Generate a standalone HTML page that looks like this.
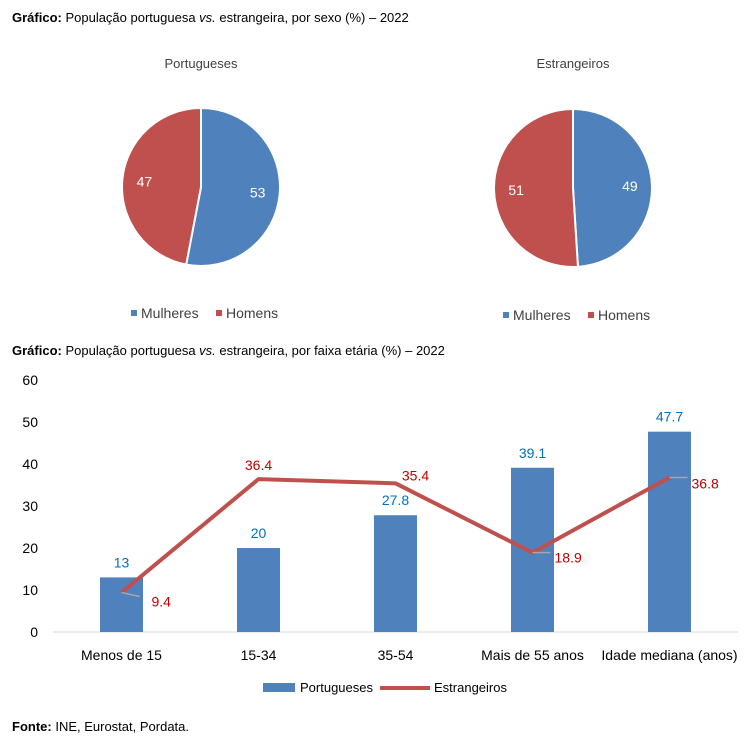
<!DOCTYPE html>
<html><head><meta charset="utf-8"><style>
body{margin:0;background:#fff;font-family:"Liberation Sans",sans-serif;}
svg text{font-family:"Liberation Sans",sans-serif;}
</style></head><body>
<svg id="c" width="748" height="744" xmlns="http://www.w3.org/2000/svg">
<text x="12" y="22" font-size="13" fill="#000"><tspan font-weight="bold">Gráfico:</tspan> População portuguesa <tspan font-style="italic">vs.</tspan> estrangeira, por sexo (%) – 2022</text>
<text x="12" y="355" font-size="13" fill="#000"><tspan font-weight="bold">Gráfico:</tspan> População portuguesa <tspan font-style="italic">vs.</tspan> estrangeira, por faixa etária (%) – 2022</text>
<text x="12" y="731" font-size="13" fill="#000"><tspan font-weight="bold">Fonte:</tspan> INE, Eurostat, Pordata.</text>
<g id="pies"></g>
<g id="bars"></g>
</svg>
<script>
const pieTitles=["Portugueses","Estrangeiros"];
const pieMulheres=[53,49];
const pieHomens=[47,51];
const barCats=["Menos de 15","15-34","35-54","Mais de 55 anos","Idade mediana (anos)"];
const portugueses=[13,20,27.8,39.1,47.7];
const estrangeiros=[9.4,36.4,35.4,18.9,36.8];
const yTicks=[0,10,20,30,40,50,60];

const NS="http://www.w3.org/2000/svg";
function mk(tag,attrs,parent){const e=document.createElementNS(NS,tag);for(const k in attrs)e.setAttribute(k,attrs[k]);parent.appendChild(e);return e;}
const BLUE="#4f81bd",RED="#c0504d";
const pies=document.getElementById('pies');
const pcx=[201,573],pcy=[187,188],R=79;
pieTitles.forEach((t,i)=>{
  const g=mk('g',{},pies);
  
  
  const tt=mk('text',{x:pcx[i],y:68,'font-size':13,'text-anchor':'middle',fill:'#404040'},g);tt.textContent=t;
  
  
  const cx=pcx[i],cy=pcy[i];
  const vals=[pieMulheres[i],pieHomens[i]],cols=[BLUE,RED],names=['mulheres','homens'];
  const tot=vals[0]+vals[1];let a0=0;
  vals.forEach((v,j)=>{
    const a1=a0+v/tot*2*Math.PI;
    const x0=cx+R*Math.sin(a0),y0=cy-R*Math.cos(a0),x1=cx+R*Math.sin(a1),y1=cy-R*Math.cos(a1);
    const p=mk('path',{d:`M${cx},${cy}L${x0},${y0}A${R},${R} 0 ${a1-a0>Math.PI?1:0} 1 ${x1},${y1}Z`,fill:cols[j],stroke:'#fff','stroke-width':2},g);
    
    
    const am=(a0+a1)/2,lr=R*0.72;
    const l=mk('text',{x:cx+lr*Math.sin(am),y:cy-lr*Math.cos(am)+5,'font-size':14,'text-anchor':'middle',fill:'#fff'},g);l.textContent=v;
    
    
    a0=a1;
  });
  const ly=i==0?319:321,lx=cx-70;
  const lg=mk('g',{},g);
  
  
  mk('rect',{x:lx,y:ly-9,width:6,height:6,fill:BLUE},lg);
  mk('text',{x:lx+10,y:ly-1,'font-size':14,fill:'#404040'},lg).textContent='Mulheres';
  mk('rect',{x:lx+85,y:ly-9,width:6,height:6,fill:RED},lg);
  mk('text',{x:lx+95,y:ly-1,'font-size':14,fill:'#404040'},lg).textContent='Homens';
});

const bars=document.getElementById('bars');
const X0=53,X1=738,Y0=632,PX=4.2;
const step=(X1-X0)/barCats.length;
const xC=i=>X0+step*(i+0.5);
const yS=v=>Y0-v*PX;
yTicks.forEach(t=>{
  const e=mk('text',{x:38,y:yS(t)+5,'font-size':14,'text-anchor':'end',fill:'#000'},bars);e.textContent=t;
  
  
});
const ax=mk('line',{x1:X0,x2:X1,y1:Y0,y2:Y0,stroke:'#d9d9d9','stroke-width':1},bars);


barCats.forEach((c,i)=>{
  const e=mk('text',{x:xC(i),y:660,'font-size':14,'text-anchor':'middle',fill:'#000'},bars);e.textContent=c;
  
  
});
portugueses.forEach((v,i)=>{
  const r=mk('rect',{x:xC(i)-21.5,y:yS(v),width:43,height:v*PX,fill:BLUE},bars);
  
  
  const l=mk('text',{x:xC(i),y:yS(v)-10,'font-size':14,'text-anchor':'middle',fill:'#0070c0'},bars);l.textContent=v;
  
  
});
const pts=estrangeiros.map((v,i)=>xC(i)+','+yS(v)).join(' ');
const pl=mk('polyline',{points:pts,fill:'none',stroke:RED,'stroke-width':4,'stroke-linejoin':'round'},bars);


const lblOff=[[22,14,1],[0,-14,0],[20,-8,0],[22,5,1],[22,6,1]];
estrangeiros.forEach((v,i)=>{
  const [dx,dy,lead]=lblOff[i];const x=xC(i),y=yS(v);
  if(lead){const ld=mk('line',{x1:x,y1:y,x2:x+dx-4,y2:y+(dy>8?dy-10:0),stroke:'#a6a6a6','stroke-width':1.5},bars);
    
    }
  const l=mk('text',{x:x+dx,y:y+dy+(dy>8?0:5),'font-size':14,'text-anchor':lead?'start':'middle',fill:'#c00000'},bars);l.textContent=v;
  if(i==0){l.setAttribute('y',y+dy);l.setAttribute('x',x+30);}
  
  
});
const lg=mk('g',{},bars);


mk('rect',{x:263,y:683,width:32,height:9,fill:BLUE},lg);
mk('text',{x:300,y:692,'font-size':13,fill:'#000'},lg).textContent='Portugueses';
mk('line',{x1:380,x2:430,y1:688,y2:688,stroke:RED,'stroke-width':4},lg);
mk('text',{x:434,y:692,'font-size':13,fill:'#000'},lg).textContent='Estrangeiros';
</script>
</body></html>
